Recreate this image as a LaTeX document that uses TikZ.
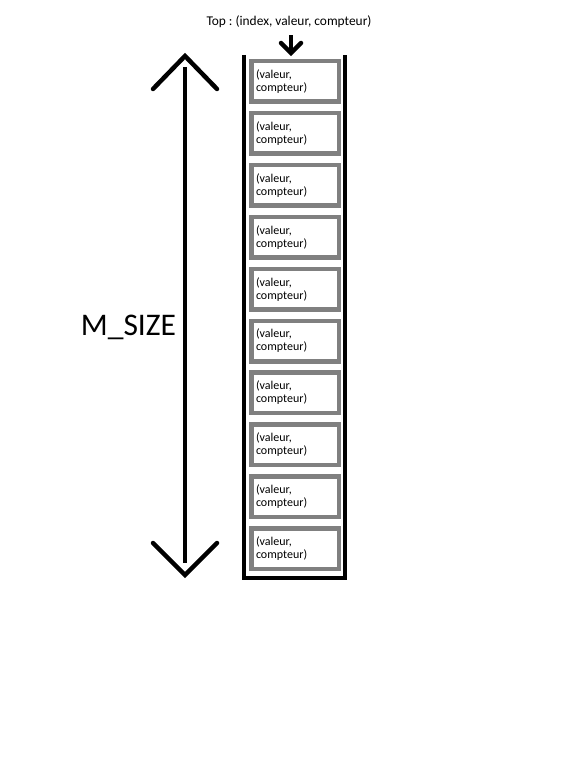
\documentclass[tikz,border=0pt]{standalone}
\usepackage{fontspec}
\setmainfont{Carlito}
\usetikzlibrary{positioning}
\definecolor{mygray}{RGB}{128,128,128}
\frenchspacing

\begin{document}
\begin{tikzpicture}[x=1pt,y=-1pt,node distance=11.4pt,
  cell/.style={rectangle,draw=mygray,line width=4.5pt,outer sep=0pt,minimum width=87.5pt,minimum height=40.5pt,
    text width=78pt,inner xsep=4.75pt,align=left,font=\fontsize{12}{13}\selectfont},
  wall/.style={line width=4pt},
  barb/.style={line width=4.5pt,line cap=round}]
\useasboundingbox (0,0) rectangle (569,757);
% the stack
\node[cell] (c1) at (295,81.5) {(valeur,\\compteur)};
\node[cell,below=of c1] (c2) {(valeur,\\compteur)};
\node[cell,below=of c2] (c3) {(valeur,\\compteur)};
\node[cell,below=of c3] (c4) {(valeur,\\compteur)};
\node[cell,below=of c4] (c5) {(valeur,\\compteur)};
\node[cell,below=of c5] (c6) {(valeur,\\compteur)};
\node[cell,below=of c6] (c7) {(valeur,\\compteur)};
\node[cell,below=of c7] (c8) {(valeur,\\compteur)};
\node[cell,below=of c8] (c9) {(valeur,\\compteur)};
\node[cell,below=of c9] (c10) {(valeur,\\compteur)};
\draw[wall] (244,55) -- (244,577.5) -- (345,577.5) -- (345,55);
% top pointer
\node[font=\fontsize{13.4}{15}\selectfont] (toplbl) at (289,22) {Top : (index, valeur, compteur)};
\coordinate (toptip) at (291,53);
\draw[wall] (toptip) -- ++(0,-18);
\draw[barb] (toptip) ++(-10,-10) -- (toptip) -- ++(10,-10);
% size marker
\node[font=\fontsize{31.5}{36}\selectfont,anchor=base] (msize) at (128.5,335) {M\_SIZE};
\coordinate (mtop) at (185,56);
\coordinate (mbot) at (185,575);
\draw[wall] (185,67) -- (185,563);
\draw[barb] (mtop) ++(-32,33) -- (mtop) -- ++(32,33);
\draw[barb] (mbot) ++(-32,-32) -- (mbot) -- ++(32,-32);
\end{tikzpicture}
\end{document}
